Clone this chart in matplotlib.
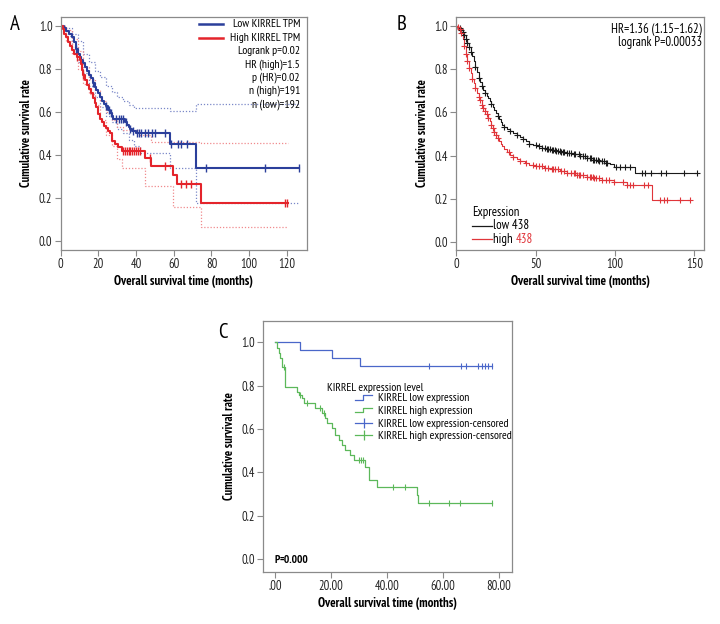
import numpy as np
import matplotlib
matplotlib.use("Agg")
import matplotlib.pyplot as plt
from matplotlib.lines import Line2D
from matplotlib.legend_handler import HandlerBase

# narrow face close to the condensed font of the figure, DejaVu as fallback
plt.rcParams['font.family'] = ['PT Sans Narrow', 'Roboto Condensed', 'DejaVu Sans']
FS = 9.0          # ticks, axis labels, B annotations
FS_A = 8.4        # panel A legend block
FS_C = 8.1        # panel C legend
plt.rcParams['font.size'] = FS

# ---------------- Panel A data (GEPIA style) ----------------
a_low_t = [0, 1.5, 3, 4.5, 6, 7, 8, 9, 10, 11, 12, 13, 14, 15, 16, 17, 18, 19, 20, 21,
           22, 23, 24, 25, 26, 27, 28, 34, 35, 36, 37, 38, 40, 58, 72]
a_low_s = [1.0, 0.99, 0.975, 0.96, 0.945, 0.925, 0.89, 0.87, 0.855, 0.84, 0.825, 0.81, 0.79,
           0.77, 0.755, 0.735, 0.715, 0.70, 0.685, 0.67, 0.65, 0.635, 0.625, 0.61, 0.595,
           0.58, 0.565, 0.55, 0.54, 0.53, 0.52, 0.51, 0.50, 0.45, 0.337]
a_low_end = 126.4
a_low_cens = [8, 17, 24, 25.5, 26.5, 29.5, 31, 32, 33, 34.8, 37, 38.5, 40.5, 41.5, 42.6,
              44.7, 46.5, 48.2, 50, 55.3, 58.8, 62.4, 64.1, 66.8, 76.9, 108.3, 126.4]

a_high_t = [0, 1, 2, 3, 4, 5, 6, 7, 8.5, 10.5, 11, 11.5, 12, 13, 14, 15, 16, 17, 18, 19, 20,
            21, 22, 23, 24, 25, 26, 27, 29, 30.5, 32.4, 44.7, 47.7, 59.4, 61.5, 74.4]
a_high_s = [1.0, 0.985, 0.96, 0.945, 0.925, 0.905, 0.885, 0.87, 0.855, 0.84, 0.82, 0.795,
            0.77, 0.745, 0.725, 0.705, 0.685, 0.665, 0.64, 0.62, 0.59, 0.565, 0.55, 0.535,
            0.525, 0.51, 0.50, 0.465, 0.45, 0.435, 0.419, 0.384, 0.349, 0.306, 0.263, 0.175]
a_high_end = 120.7
a_high_cens = [8.5, 12, 33, 34, 35, 36, 37, 38, 39, 40, 41, 42, 47.2, 55.3, 64, 66.4, 68.9,
               119.3, 120.0]

# confidence bands
a_low_hi_t = [0, 3, 6, 9, 12, 15, 18, 21, 24, 27, 30, 33, 36, 39, 58, 72]
a_low_hi_s = [1.0, 0.99, 0.96, 0.93, 0.87, 0.83, 0.79, 0.76, 0.72, 0.69, 0.67, 0.65, 0.63,
              0.616, 0.603, 0.637]
a_low_lo_t = [0, 3, 6, 9, 12, 15, 18, 21, 24, 27, 30, 33, 36, 39, 42, 58, 72]
a_low_lo_s = [1.0, 0.95, 0.90, 0.83, 0.78, 0.72, 0.67, 0.62, 0.58, 0.55, 0.52, 0.50, 0.47,
              0.44, 0.407, 0.337, 0.176]
a_high_hi_t = [0, 3, 6, 9, 12, 15, 18, 21, 24, 27, 30, 33, 42, 47.7, 74.4]
a_high_hi_s = [1.0, 0.98, 0.94, 0.88, 0.81, 0.75, 0.70, 0.65, 0.60, 0.56, 0.53, 0.515, 0.49,
               0.46, 0.453]
a_high_lo_t = [0, 3, 6, 9, 12, 15, 18, 21, 24, 27, 30, 32.4, 44.7, 59.4, 74.4]
a_high_lo_s = [1.0, 0.93, 0.87, 0.80, 0.73, 0.68, 0.63, 0.56, 0.49, 0.44, 0.38, 0.337, 0.255,
               0.159, 0.066]

a_legend = ["Low KIRREL TPM", "High KIRREL TPM", "Logrank p=0.02", "HR (high)=1.5",
            "p (HR)=0.02", "n (high)=191", "n (low)=192"]

# ---------------- Panel B data (KM plotter style) ----------------
b_low_t = [0, 1, 2, 3, 4, 5, 6, 7, 8, 9, 10, 11, 12, 13, 14, 15, 16, 17, 18, 19, 20, 21, 22,
           23, 24, 25, 26, 27, 28, 29, 30, 32, 34, 36, 38, 40, 42, 44, 46, 48, 51, 54, 57,
           60, 63, 66, 70, 74, 78, 82, 86, 90, 94, 97, 99, 112.7]
b_low_s = [1.0, 0.995, 0.99, 0.98, 0.97, 0.958, 0.94, 0.92, 0.90, 0.88, 0.86, 0.835, 0.81,
           0.785, 0.76, 0.74, 0.72, 0.705, 0.69, 0.675, 0.665, 0.652, 0.638, 0.625, 0.612,
           0.598, 0.585, 0.57, 0.553, 0.54, 0.533, 0.522, 0.512, 0.503, 0.494, 0.486, 0.475,
           0.465, 0.455, 0.448, 0.442, 0.435, 0.430, 0.425, 0.420, 0.417, 0.41, 0.405, 0.398,
           0.39, 0.38, 0.375, 0.367, 0.36, 0.349, 0.321]
b_low_end = 151.6
b_low_cens = [2, 3, 4, 5, 6, 7, 8, 9, 12, 14, 16, 18, 22, 26, 30, 34, 38, 42, 46, 50, 52,
              54, 56, 57, 58, 59, 60, 61, 62, 63, 64, 65, 66, 67, 68, 70, 71, 72, 74, 75, 77,
              78, 80, 81, 82, 84, 85, 86, 87, 88, 89, 90, 92, 93, 94, 95, 100.6, 103.1,
              106.3, 109.4, 116.8, 118.9, 122.5, 128.8, 132.2, 143.6, 151.6]

b_high_t = [0, 1, 2, 3, 4, 5, 6, 7, 8, 9, 10, 11, 12, 13, 14, 15, 16, 17, 18, 19, 20, 21,
            22, 23, 24, 25, 26, 27, 28, 29, 30, 32, 34, 36, 38, 40, 43, 46, 50, 55, 60, 65,
            70, 76, 82, 86.5, 92, 99, 107.4, 123.2]
b_high_s = [1.0, 0.995, 0.985, 0.965, 0.94, 0.905, 0.87, 0.835, 0.805, 0.78, 0.755, 0.735,
            0.71, 0.69, 0.67, 0.655, 0.635, 0.62, 0.605, 0.59, 0.575, 0.56, 0.54, 0.525,
            0.51, 0.495, 0.48, 0.468, 0.455, 0.442, 0.43, 0.415, 0.402, 0.392, 0.383, 0.375,
            0.366, 0.358, 0.352, 0.343, 0.336, 0.328, 0.32, 0.311, 0.303, 0.295, 0.287,
            0.28, 0.264, 0.195]
b_high_end = 147.4
b_high_cens = [1, 2, 3, 5, 6, 7, 8, 10, 12, 14, 15, 16, 17, 18, 19, 20, 22, 23, 24, 25, 26,
               33, 36, 40, 44, 48, 50, 52, 54, 56, 58, 60, 61, 62, 64, 66, 68, 70, 72, 74,
               75, 76, 77, 78, 80, 82, 84, 85, 86, 87, 88, 90, 92, 94, 96, 99, 105, 107.4,
               109.4, 111.5, 117.9, 121, 128.4, 130.5, 132.7, 141.1, 147.4]

b_n_low = 438
b_n_high = 438
b_hr_text = "HR=1.36 (1.15\u22121.62)"
b_p_text = "logrank P=0.00033"

# ---------------- Panel C data (SPSS style) ----------------
c_low_t = [0, 8.9, 20.2, 30.4]
c_low_s = [1.0, 0.963, 0.926, 0.889]
c_low_end = 77.4
c_low_cens = [55.1, 66.3, 68.2, 72.4, 73.8, 75.0, 76.2, 77.4]

c_high_t = [0, 0.7, 1.3, 1.9, 2.5, 3.7, 7.9, 8.5, 9.6, 10.2, 14.4, 16.8, 18.0, 18.6, 20.4,
            21.5, 22.7, 23.9, 25.1, 26.9, 28.1, 32.3, 33.5, 36.3, 50.6, 51.2]
c_high_s = [1.0, 0.973, 0.950, 0.927, 0.888, 0.796, 0.773, 0.758, 0.742, 0.719, 0.696,
            0.673, 0.650, 0.627, 0.604, 0.573, 0.550, 0.527, 0.503, 0.480, 0.457, 0.426,
            0.365, 0.334, 0.296, 0.260]
c_high_end = 77.4
c_high_cens = [3.1, 9.0, 11.4, 16.1, 17.5, 29.9, 30.8, 31.4, 42.3, 46.3, 55.1, 62.2, 66.2,
               77.4]

c_title = "KIRREL expression level"
c_labels = ["KIRREL low expression", "KIRREL high expression",
            "KIRREL low expression-censored", "KIRREL high expression-censored"]


def step_value(t, s, x):
    idx = np.searchsorted(np.asarray(t), np.asarray(x), side='right') - 1
    return np.asarray(s)[idx]


def draw_step(ax, t, s, t_end, **kw):
    tt = list(t) + [t_end]
    ss = list(s) + [s[-1]]
    ax.step(tt, ss, where='post', **kw)


def draw_censor(ax, t, s, cens, **kw):
    ax.plot(cens, step_value(t, s, cens), linestyle='none', **kw)


def style_axes(ax, spine_col='#8a8a8a'):
    for sp in ax.spines.values():
        sp.set_color(spine_col)
        sp.set_linewidth(0.9)
    ax.tick_params(direction='out', length=4, width=0.8, color=spine_col,
                   labelsize=FS, labelcolor='#222222', pad=2)
    ax.set_ylabel("Cumulative survival rate", fontweight='bold', fontsize=FS,
                  labelpad=4)
    ax.set_xlabel("Overall survival time (months)", fontweight='bold', fontsize=FS + 0.3,
                  labelpad=3)


class StepHandler(HandlerBase):
    def create_artists(self, legend, orig_handle, xdescent, ydescent, width, height,
                       fontsize, trans):
        x0, x1 = -xdescent, -xdescent + width
        xm = x0 + width * 0.45
        y0 = -ydescent + height * 0.2
        y1 = -ydescent + height * 0.7
        ln = Line2D([x0, xm, xm, x1], [y0, y0, y1, y1], color=orig_handle.get_color(),
                    lw=orig_handle.get_linewidth(), transform=trans)
        return [ln]


fig = plt.figure(figsize=(7.2, 6.24), dpi=100)

# ---------------- Panel A ----------------
blue_a = '#2b3f9b'
red_a = '#e4242b'
axA = fig.add_axes([0.0843, 0.5994, 0.342, 0.3734])
for tt, ss, end, col in [(a_low_hi_t, a_low_hi_s, a_low_end, '#7b88c8'),
                         (a_low_lo_t, a_low_lo_s, a_low_end, '#7b88c8'),
                         (a_high_hi_t, a_high_hi_s, a_high_end, '#f08a8d'),
                         (a_high_lo_t, a_high_lo_s, a_high_end, '#f08a8d')]:
    draw_step(axA, tt, ss, end, color=col, lw=0.9, linestyle=(0, (1, 1.5)))
draw_step(axA, a_low_t, a_low_s, a_low_end, color=blue_a, lw=1.5)
draw_step(axA, a_high_t, a_high_s, a_high_end, color=red_a, lw=1.5)
draw_censor(axA, a_low_t, a_low_s, a_low_cens, marker='|', ms=6, mew=1.0, color=blue_a)
draw_censor(axA, a_high_t, a_high_s, a_high_cens, marker='|', ms=6, mew=1.0, color=red_a)
axA.set_xlim(0, 130.7)
axA.set_ylim(-0.042, 1.04)
axA.set_xticks(np.arange(0, 121, 20))
axA.set_yticks(np.arange(0, 1.01, 0.2))
axA.set_yticklabels([f"{v:.1f}" for v in np.arange(0, 1.01, 0.2)])
style_axes(axA)
for i, txt in enumerate(a_legend):
    yy = (250 - (24.3 + 13.3 * i)) / 233
    axA.text(0.972, yy, txt, transform=axA.transAxes, ha='right', va='center',
             fontsize=FS_A)
for i, col in enumerate([blue_a, red_a]):
    yy = (250 - (24.3 + 13.3 * i)) / 233
    axA.plot([0.56, 0.66], [yy, yy], color=col, lw=1.8, transform=axA.transAxes)
fig.text(15 / 720, 1 - 24 / 624, "A", fontsize=15, ha='center', va='center')

# ---------------- Panel B ----------------
red_b = '#e0353a'
axB = fig.add_axes([0.6338, 0.5994, 0.344, 0.3734])
draw_step(axB, b_low_t, b_low_s, b_low_end, color='#1a1a1a', lw=0.8)
draw_step(axB, b_high_t, b_high_s, b_high_end, color=red_b, lw=0.8)
draw_censor(axB, b_low_t, b_low_s, b_low_cens, marker='+', ms=5, mew=0.8, color='#1a1a1a')
draw_censor(axB, b_high_t, b_high_s, b_high_cens, marker='+', ms=5, mew=0.8, color=red_b)
axB.set_xlim(0, 156)
axB.set_ylim(-0.036, 1.04)
axB.set_xticks([0, 50, 100, 150])
axB.set_yticks(np.arange(0, 1.01, 0.2))
axB.set_yticklabels([f"{v:.1f}" for v in np.arange(0, 1.01, 0.2)])
style_axes(axB)
axB.text(0.991, 0.947, b_hr_text, transform=axB.transAxes, ha='right', va='center',
         fontsize=FS + 0.2)
axB.text(0.991, 0.891, b_p_text, transform=axB.transAxes, ha='right', va='center',
         fontsize=FS + 0.2)
axB.text(0.062, 0.162, "Expression", transform=axB.transAxes, ha='left', va='center',
         fontsize=FS + 0.2)
axB.plot([0.062, 0.143], [0.103, 0.103], color='#1a1a1a', lw=0.9, transform=axB.transAxes)
axB.plot([0.062, 0.143], [0.046, 0.046], color=red_b, lw=0.9, transform=axB.transAxes)
axB.text(0.149, 0.103, f"low {b_n_low}", transform=axB.transAxes, ha='left', va='center',
         fontsize=FS + 0.2)
hi = axB.text(0.149, 0.046, "high ", transform=axB.transAxes, ha='left', va='center',
              fontsize=FS + 0.2)
axB.annotate(f"{b_n_high}", xy=(1, 0), xycoords=hi, ha='left', va='bottom', color=red_b,
             fontsize=FS + 0.2)
fig.text(402 / 720, 1 - 24 / 624, "B", fontsize=15, ha='center', va='center')

# ---------------- Panel C ----------------
blue_c = '#4a67c9'
green_c = '#5cb85a'
axC = fig.add_axes([0.3657, 0.0838, 0.3458, 0.4022])
draw_step(axC, c_low_t, c_low_s, c_low_end, color=blue_c, lw=0.9)
draw_step(axC, c_high_t, c_high_s, c_high_end, color=green_c, lw=0.9)
draw_censor(axC, c_low_t, c_low_s, c_low_cens, marker='|', ms=4, mew=0.8, color=blue_c)
draw_censor(axC, c_high_t, c_high_s, c_high_cens, marker='|', ms=4, mew=0.8, color=green_c)
axC.set_xlim(-4.2, 84.75)
axC.set_ylim(-0.059, 1.10)
axC.set_xticks([0, 20, 40, 60, 80])
axC.set_xticklabels([".00", "20.00", "40.00", "60.00", "80.00"])
axC.set_yticks(np.arange(0, 1.01, 0.2))
axC.set_yticklabels([f"{v:.1f}" for v in np.arange(0, 1.01, 0.2)])
style_axes(axC)
axC.text(0.255, 0.731, c_title, transform=axC.transAxes, ha='left', va='center',
         fontsize=FS_C + 0.3)
h_low = Line2D([], [], color=blue_c, lw=0.9)
h_high = Line2D([], [], color=green_c, lw=0.9)
h_low_c = Line2D([], [], color=blue_c, lw=0.9, marker='|', ms=7, mew=0.9)
h_high_c = Line2D([], [], color=green_c, lw=0.9, marker='|', ms=7, mew=0.9)
axC.legend([h_low, h_high, h_low_c, h_high_c], c_labels,
           handler_map={h_low: StepHandler(), h_high: StepHandler()},
           loc='upper left', bbox_to_anchor=(0.368, 0.712), frameon=False,
           fontsize=FS_C + 0.3, handlelength=1.5, handletextpad=0.5, labelspacing=0.22,
           borderpad=0, borderaxespad=0)
pt = axC.text(0.044, 0.047, "P", transform=axC.transAxes, ha='left', va='center',
              fontweight='bold', fontstyle='italic', fontsize=FS_C)
axC.annotate("=0.000", xy=(1, 0), xycoords=pt, ha='left', va='bottom', fontweight='bold',
             fontsize=FS_C)
fig.text(223 / 720, 1 - 333 / 624, "C", fontsize=15, ha='center', va='center')

fig.savefig("out.png", dpi=100)
